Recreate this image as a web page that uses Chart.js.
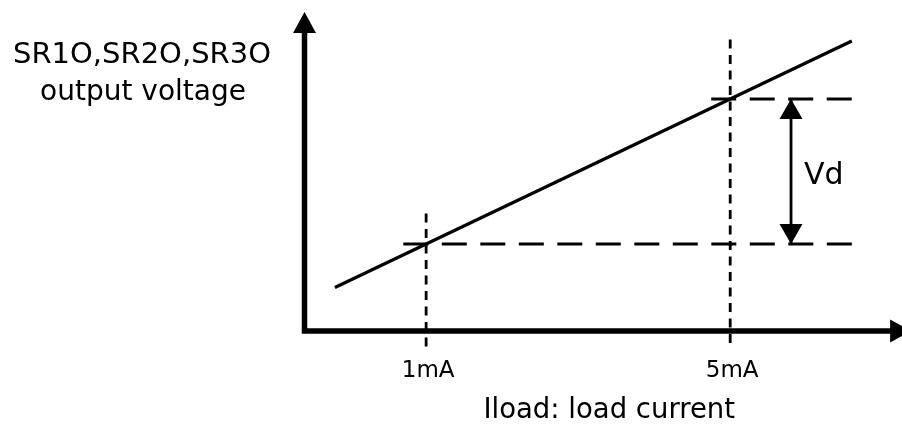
<!DOCTYPE html>
<html>
<head>
<meta charset="utf-8">
<script src="https://cdn.jsdelivr.net/npm/chart.js@4.4.0/dist/chart.umd.min.js"></script>
<style>
  html, body { margin: 0; padding: 0; background: #fff; }
  #wrap { width: 902px; height: 424px; position: relative; }
</style>
</head>
<body>
<div id="wrap"><canvas id="c"></canvas></div>
<script>
// load current (mA) against output voltage (arbitrary units)
const lineX = [-0.2, 6.6];
const lineV = [1.5, 10.0];

const markCurrents = [1, 5];
const markLabels = ['1mA', '5mA'];
const markV = [3, 8];             // output voltage at 1mA and 5mA
const vDashTop = [4.05, 10.05];   // where the dashed verticals start
const vDashBottom = -0.6;
const hDashStart = [0.7, 4.75];
const hDashEnd = 6.6;

const vdX = 5.8;
const vdLabel = 'Vd';

const xRange = [-0.6, 7.26];
const vRange = [0, 11];
const xAxisEnd = 7.38;

const yTitle = ['SR1O,SR2O,SR3O', 'output voltage'];
const xTitle = 'Iload: load current';

const FONT = '"DejaVu Sans", sans-serif';

const pts = (xs, ys) => xs.map((x, i) => ({ x: x, y: ys[i] }));

const lineStyle = { borderColor: '#000', borderWidth: 3.2, pointRadius: 0, showLine: true, clip: false, fill: false };

const datasets = [
    { ...lineStyle, data: pts(lineX, lineV) }
];
markCurrents.forEach((c, i) => {
    datasets.push({ ...lineStyle, borderWidth: 2.8, borderDash: [9, 6.5], data: pts([c, c], [vDashTop[i], vDashBottom]) });
});
markV.forEach((v, i) => {
    datasets.push({ ...lineStyle, borderWidth: 3, borderDash: [25, 13.5], data: pts([hDashStart[i], hDashEnd], [v, v]) });
});
// Vd shaft
datasets.push({ ...lineStyle, borderWidth: 2.8, data: pts([vdX, vdX], markV) });

function tri(ctx, ax, ay, bx, by, cx, cy) {
    ctx.beginPath();
    ctx.moveTo(ax, ay); ctx.lineTo(bx, by); ctx.lineTo(cx, cy);
    ctx.closePath();
    ctx.fill();
}

const sketchPlugin = {
    id: 'sketch',
    afterDatasetsDraw(chart) {
        const ctx = chart.ctx;
        const xs = chart.scales.x, ys = chart.scales.y;
        const x0 = xs.getPixelForValue(xRange[0]);
        const y0 = ys.getPixelForValue(vRange[0]);
        const yTip = ys.getPixelForValue(vRange[1]);
        const xTip = xs.getPixelForValue(xAxisEnd);
        const aLen = 21, aHalf = 11.5;

        ctx.save();
        ctx.fillStyle = '#000';
        ctx.strokeStyle = '#000';

        // axes
        ctx.lineWidth = 5.5;
        ctx.lineJoin = 'miter';
        ctx.beginPath();
        ctx.moveTo(x0, yTip + aLen - 1);
        ctx.lineTo(x0, y0);
        ctx.lineTo(xTip - aLen + 1, y0);
        ctx.stroke();
        tri(ctx, x0, yTip, x0 - aHalf, yTip + aLen, x0 + aHalf, yTip + aLen);
        tri(ctx, xTip, y0, xTip - aLen, y0 - aHalf, xTip - aLen, y0 + aHalf);

        // Vd arrow heads
        const vx = xs.getPixelForValue(vdX);
        const vTop = ys.getPixelForValue(markV[1]);
        const vBot = ys.getPixelForValue(markV[0]);
        tri(ctx, vx, vTop, vx - aHalf, vTop + 20, vx + aHalf, vTop + 20);
        tri(ctx, vx, vBot, vx - aHalf, vBot - 20, vx + aHalf, vBot - 20);

        // texts
        ctx.textBaseline = 'alphabetic';
        ctx.font = '30px ' + FONT;
        ctx.textAlign = 'left';
        ctx.fillText(vdLabel, vx + 13, (vTop + vBot) / 2 + 12);

        ctx.textAlign = 'center';
        ctx.font = '23px ' + FONT;
        markCurrents.forEach((c, i) => {
            ctx.fillText(markLabels[i], xs.getPixelForValue(c) + 2, y0 + 46);
        });

        ctx.font = '27.5px ' + FONT;
        ctx.fillText(xTitle, (xs.left + xs.right) / 2 + 6, y0 + 87);

        ctx.font = '29px ' + FONT;
        ctx.fillText(yTitle[0], 142, 63);
        ctx.font = '28px ' + FONT;
        ctx.fillText(yTitle[1], 143, 100);
        ctx.restore();
    }
};

new Chart(document.getElementById('c'), {
    type: 'scatter',
    data: { datasets },
    options: {
        responsive: true,
        maintainAspectRatio: false,
        animation: false,
        layout: { padding: { left: 304.5, right: 0, top: 12, bottom: 93 } },
        plugins: { legend: { display: false }, tooltip: { enabled: false } },
        scales: {
            x: { type: 'linear', min: xRange[0], max: xRange[1], display: false },
            y: { type: 'linear', min: vRange[0], max: vRange[1], display: false }
        }
    },
    plugins: [sketchPlugin]
});
</script>
</body>
</html>
